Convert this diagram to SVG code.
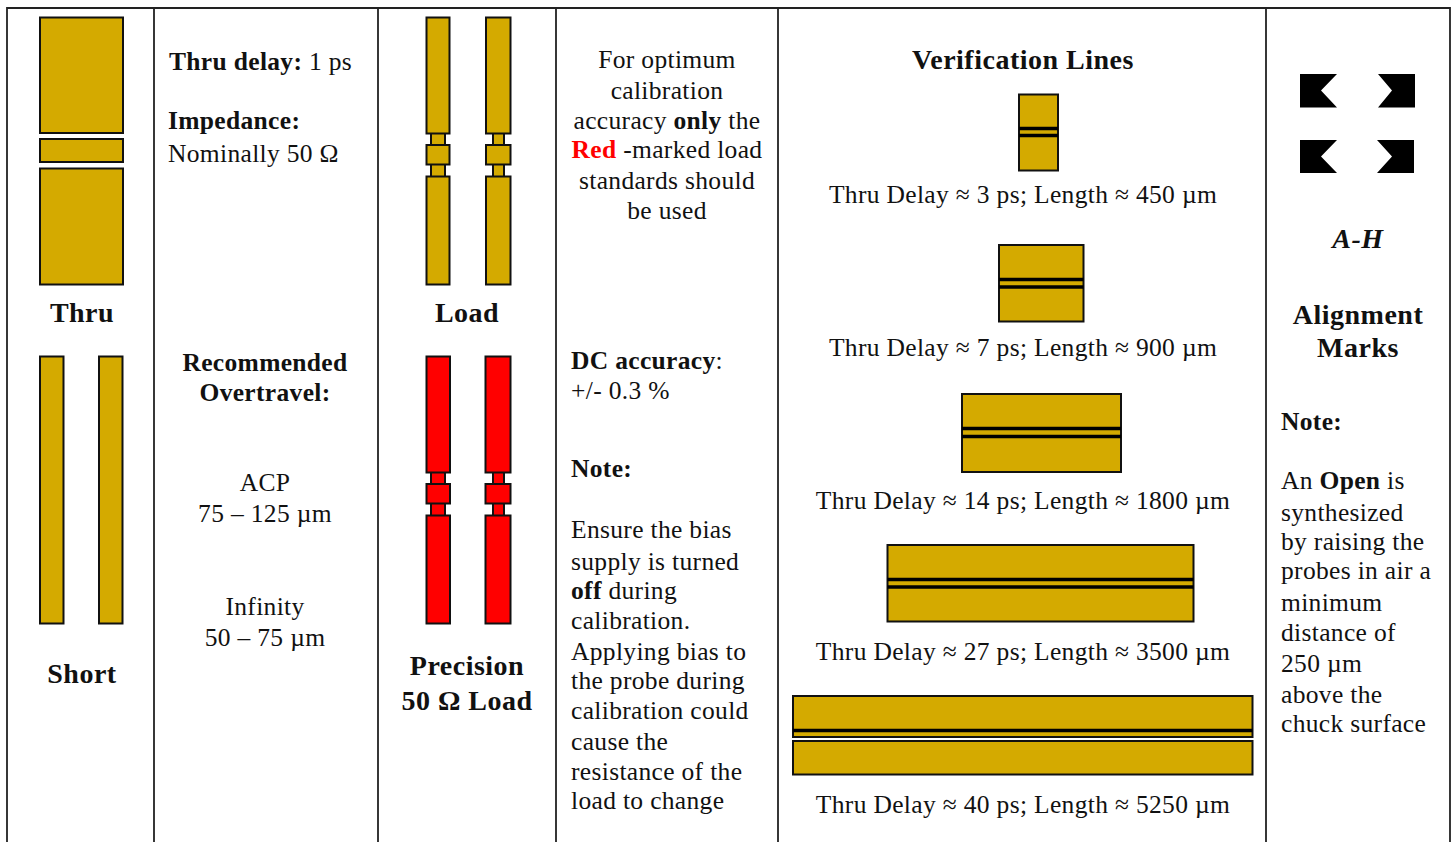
<svg xmlns="http://www.w3.org/2000/svg" width="1451" height="842" viewBox="0 0 1451 842">
<style>
text{font-family:"Liberation Serif","Times New Roman",serif;font-size:25.5px;letter-spacing:.33px;fill:#111}
.b{font-weight:bold}
.h{font-weight:bold;font-size:28px;letter-spacing:.5px}
.m{text-anchor:middle}
.g{fill:#d4aa00;stroke:#111;stroke-width:2}
.r{fill:#ff0000;stroke:#111;stroke-width:2}
.l{fill:none;stroke:#222;stroke-width:1.8}
.v{fill:none;stroke:#000;stroke-width:3.500}
.k{fill:#000}
</style>
<rect width="1451" height="842" fill="#fff"/>
<g id="table">
<path class="l" d="M7 842V8H1450V842M154 8V842M378 8V842M556 8V842M778 8V842M1266 8V842"/>
</g>
<g id="thru">
<rect class="g" x="40" y="17.500" width="83" height="115.500"/>
<rect class="g" x="40" y="139" width="83" height="23"/>
<rect class="g" x="40" y="168.500" width="83" height="116"/>
<text class="h m" x="82" y="322">Thru</text>
</g>
<g id="short">
<rect class="g" x="40" y="356.500" width="23.500" height="267"/>
<rect class="g" x="99" y="356.500" width="23.500" height="267"/>
<text class="h m" x="82" y="683">Short</text>
</g>
<g id="thru-info">
<text x="169" y="70"><tspan class="b">Thru delay:</tspan> 1 ps</text>
<text class="b" x="168" y="129">Impedance:</text>
<text x="168" y="162">Nominally 50 Ω</text>
</g>
<g id="overtravel">
<text class="b m" x="265" y="371">Recommended</text>
<text class="b m" x="265" y="401">Overtravel:</text>
<text class="m" x="265" y="491">ACP</text>
<text class="m" x="265" y="522">75 – 125 µm</text>
<text class="m" x="265" y="615">Infinity</text>
<text class="m" x="265" y="646">50 – 75 µm</text>
</g>
<g id="load">
<path class="g" d="M431 133H445V146H431ZM431 164H445V177H431Z"/>
<rect class="g" x="426.500" y="17.500" width="23" height="116"/>
<rect class="g" x="426.500" y="145" width="23" height="19.500"/>
<rect class="g" x="426.500" y="176.500" width="23" height="108"/>
<path class="g" d="M493 133H504V146H493ZM493 164H504V177H493Z"/>
<rect class="g" x="486" y="17.500" width="24.500" height="116"/>
<rect class="g" x="486" y="145" width="24.500" height="19.500"/>
<rect class="g" x="486" y="176.500" width="24.500" height="108"/>
<text class="h m" x="467" y="322">Load</text>
</g>
<g id="precision-load">
<path class="r" d="M431 472H445V485H431ZM431 503H445V516H431Z"/>
<rect class="r" x="426.500" y="356.500" width="23.500" height="116"/>
<rect class="r" x="426.500" y="484" width="23.500" height="19.500"/>
<rect class="r" x="426.500" y="515.500" width="23.500" height="108"/>
<path class="r" d="M493 472H504V485H493ZM493 503H504V516H493Z"/>
<rect class="r" x="485.500" y="356.500" width="25" height="116"/>
<rect class="r" x="485.500" y="484" width="25" height="19.500"/>
<rect class="r" x="485.500" y="515.500" width="25" height="108"/>
<text class="h m" x="467" y="675">Precision</text>
<text class="h m" x="467" y="710">50 Ω Load</text>
</g>
<g id="load-note">
<text class="m" x="667" y="68">For optimum</text>
<text class="m" x="667" y="99">calibration</text>
<text class="m" x="667" y="129">accuracy <tspan class="b">only</tspan> the</text>
<text class="m" x="667" y="158"><tspan class="b" style="fill:#ff0000">Red</tspan> -marked load</text>
<text class="m" x="667" y="189">standards should</text>
<text class="m" x="667" y="219">be used</text>
</g>
<g id="dc-note">
<text x="571" y="369"><tspan class="b">DC accuracy</tspan>:</text>
<text x="571" y="399">+/- 0.3 %</text>
<text class="b" x="571" y="477">Note:</text>
<text x="571" y="538">Ensure the bias</text>
<text x="571" y="570">supply is turned</text>
<text x="571" y="599"><tspan class="b">off</tspan> during</text>
<text x="571" y="629">calibration.</text>
<text x="571" y="660">Applying bias to</text>
<text x="571" y="689">the probe during</text>
<text x="571" y="719">calibration could</text>
<text x="571" y="750">cause the</text>
<text x="571" y="780">resistance of the</text>
<text x="571" y="809">load to change</text>
</g>
<g id="verification-lines">
<text class="h m" x="1023" y="69">Verification Lines</text>
<g id="line-3ps">
<rect class="g" x="1019" y="94.500" width="39" height="76"/>
<path class="v" d="M1019 128.500H1058M1019 135.500H1058"/>
<text class="m" x="1023" y="203">Thru Delay ≈ 3 ps; Length ≈ 450 µm</text>
</g>
<g id="line-7ps">
<rect class="g" x="999" y="245" width="84.500" height="76.500"/>
<path class="v" d="M999 279.500H1083.500M999 287H1083.500"/>
<text class="m" x="1023" y="356">Thru Delay ≈ 7 ps; Length ≈ 900 µm</text>
</g>
<g id="line-14ps">
<rect class="g" x="962" y="394" width="159" height="78"/>
<path class="v" d="M962 428.500H1121M962 436.500H1121"/>
<text class="m" x="1023" y="509">Thru Delay ≈ 14 ps; Length ≈ 1800 µm</text>
</g>
<g id="line-27ps">
<rect class="g" x="887.500" y="545" width="306" height="76.500"/>
<path class="v" d="M887.500 579.500H1193.500M887.500 587H1193.500"/>
<text class="m" x="1023" y="660">Thru Delay ≈ 27 ps; Length ≈ 3500 µm</text>
</g>
<g id="line-40ps">
<rect class="g" x="793" y="696" width="459.500" height="41"/>
<rect class="g" x="793" y="741" width="459.500" height="33.500"/>
<path class="v" d="M793 730.500H1252.500"/>
<text class="m" x="1023" y="813">Thru Delay ≈ 40 ps; Length ≈ 5250 µm</text>
</g>
</g>
<g id="alignment-marks">
<path class="k" d="M1300 74H1337L1321 90.500L1337 107.500H1300Z"/>
<path class="k" d="M1378 74H1415V107.500H1378L1392 90.500Z"/>
<path class="k" d="M1300 140H1337L1321 156.500L1337 173H1300Z"/>
<path class="k" d="M1377 140H1414V173H1377L1392 156.500Z"/>
<text class="h m" x="1358" y="248" style="font-style:italic">A-H</text>
<text class="h m" x="1358" y="324">Alignment</text>
<text class="h m" x="1358" y="357">Marks</text>
<text class="b" x="1281" y="430">Note:</text>
<text x="1281" y="489">An <tspan class="b">Open</tspan> is</text>
<text x="1281" y="521">synthesized</text>
<text x="1281" y="550">by raising the</text>
<text x="1281" y="579">probes in air a</text>
<text x="1281" y="611">minimum</text>
<text x="1281" y="641">distance of</text>
<text x="1281" y="672">250 µm</text>
<text x="1281" y="703">above the</text>
<text x="1281" y="732">chuck surface</text>
</g>
</svg>
